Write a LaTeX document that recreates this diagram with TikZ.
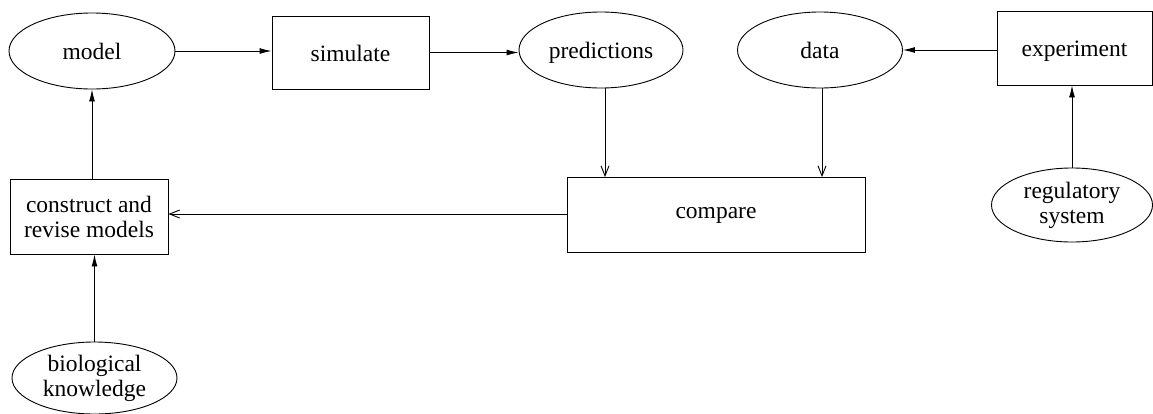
\documentclass[tikz,border=0pt]{standalone}
\usepackage{fontspec}
\setmainfont{Liberation Serif}
\usetikzlibrary{arrows.meta,shapes.geometric}
\begin{document}
\begin{tikzpicture}[x=1pt,y=-1pt,
  every node/.style={font=\fontsize{23.5}{25}\selectfont, align=center, inner sep=0pt, line width=0.9pt},
  oval/.style={draw, ellipse},
  boxnode/.style={draw, rectangle},
  oneline/.style={text height=17.5pt, text depth=0pt},
  solid arrow/.style={-{Latex[length=12pt,width=6pt]}, line width=0.9pt},
  open arrow/.style={-{Straight Barb[length=10pt,width=8pt]}, line width=0.9pt}]
\useasboundingbox (0,0) rectangle (1153,413);
\node[oval, oneline, minimum width=166pt, minimum height=76pt] (model) at (92,51) {model};
\node[boxnode, oneline, minimum width=157pt, minimum height=73pt] (simulate) at (350.5,52.5) {simulate};
\node[oval, oneline, minimum width=164pt, minimum height=76pt] (pred) at (601,50) {predictions};
\node[oval, oneline, minimum width=165pt, minimum height=76pt] (data) at (820,50) {data};
\node[boxnode, oneline, minimum width=155pt, minimum height=74pt] (exp) at (1074.5,48) {experiment};
\node[oval, minimum width=161pt, minimum height=74pt] (reg) at (1072,205) {regulatory\\system};
\node[boxnode, minimum width=298pt, minimum height=75pt] (compare) at (716,215) {compare};
\node[boxnode, minimum width=158pt, minimum height=75pt] (construct) at (89,216.5) {construct and\\revise models};
\node[oval, minimum width=165pt, minimum height=72pt] (bio) at (94.5,378) {biological\\knowledge};
\draw[solid arrow] (model.east) -- (model.east -| simulate.west);
\draw[solid arrow] (simulate.east) -- (simulate.east -| pred.west);
\draw[solid arrow] (exp.west |- data.east) -- (data.east);
\draw[open arrow] ([xshift=4pt]pred.south) -- ([xshift=4pt]pred.south |- compare.north);
\draw[open arrow] ([xshift=2pt]data.south) -- ([xshift=2pt]data.south |- compare.north);
\draw[open arrow] ([yshift=1pt]compare.west) -- ([yshift=1pt]compare.west -| construct.east);
\draw[solid arrow] (model.south |- construct.north) -- (model.south);
\draw[solid arrow] (bio.north) -- (bio.north |- construct.south);
\draw[solid arrow] (reg.north) -- (reg.north |- exp.south);
\end{tikzpicture}
\end{document}
